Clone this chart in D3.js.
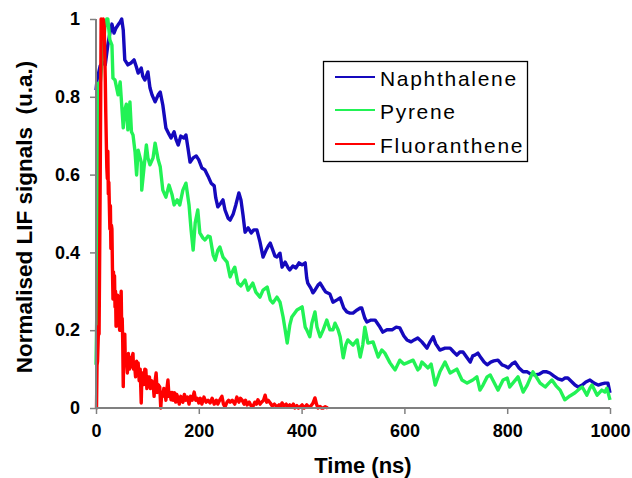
<!DOCTYPE html>
<html>
<head>
<meta charset="utf-8">
<script src="https://cdn.jsdelivr.net/npm/d3@7"></script>
<style>
  html, body { margin: 0; padding: 0; background: #ffffff; }
  svg { display: block; }
</style>
</head>
<body>
<svg id="chart" width="632" height="478"></svg>
<script>
// ---- Data (time in ns, normalised LIF signal in u.a.) ----
const seriesNames = ["Naphthalene", "Pyrene", "Fluoranthene"];
const xTicks = [0, 200, 400, 600, 800, 1000];
const yTicks = [0, 0.2, 0.4, 0.6, 0.8, 1];

const naphthalene = [
  [0,0.817],[2,0.843],[8,0.879],[14,0.889],[18,0.882],[23,0.933],[27,0.964],[31,0.987],[35,0.964],[39,0.977],
  [43,0.985],[47,0.992],[50,1.0],[53,0.972],[56,0.895],[62,0.882],[68,0.887],[74,0.895],[78,0.879],[82,0.861],
  [88,0.874],[91,0.853],[95,0.843],[101,0.864],[105,0.823],[109,0.805],[115,0.787],[121,0.805],[125,0.812],[130,0.779],
  [136,0.720],[142,0.704],[146,0.694],[152,0.710],[156,0.689],[160,0.676],[165,0.699],[171,0.694],[175,0.702],[179,0.668],
  [183,0.632],[189,0.643],[195,0.648],[200,0.638],[206,0.617],[212,0.612],[218,0.596],[224,0.578],[230,0.571],[233,0.540],
  [237,0.517],[243,0.527],[247,0.535],[251,0.509],[257,0.488],[261,0.483],[267,0.499],[272,0.522],[278,0.553],[282,0.535],
  [286,0.496],[290,0.452],[296,0.463],[302,0.450],[307,0.458],[313,0.458],[319,0.427],[325,0.388],[331,0.406],[335,0.416],
  [339,0.424],[344,0.406],[348,0.391],[352,0.388],[358,0.398],[362,0.362],[368,0.375],[374,0.360],[377,0.355],[383,0.365],
  [389,0.360],[395,0.373],[401,0.368],[407,0.373],[410,0.334],[412,0.321],[418,0.308],[422,0.296],[426,0.303],[432,0.316],
  [436,0.321],[442,0.308],[447,0.298],[455,0.293],[461,0.272],[469,0.278],[475,0.283],[482,0.257],[488,0.247],[494,0.244],
  [500,0.244],[508,0.252],[514,0.257],[517,0.257],[523,0.231],[527,0.221],[535,0.226],[543,0.226],[551,0.211],[558,0.195],
  [566,0.201],[576,0.201],[584,0.208],[591,0.206],[599,0.185],[605,0.175],[613,0.170],[619,0.175],[626,0.180],[634,0.170],
  [644,0.154],[650,0.170],[656,0.183],[661,0.165],[669,0.149],[679,0.154],[689,0.154],[696,0.144],[702,0.136],[708,0.144],
  [714,0.144],[722,0.129],[728,0.118],[733,0.134],[737,0.136],[743,0.141],[749,0.129],[755,0.118],[761,0.111],[768,0.118],
  [774,0.121],[782,0.123],[790,0.111],[796,0.108],[802,0.103],[809,0.113],[815,0.118],[823,0.103],[831,0.093],[839,0.093],
  [846,0.087],[854,0.085],[862,0.087],[870,0.093],[877,0.093],[883,0.090],[891,0.082],[899,0.075],[907,0.072],[912,0.077],
  [918,0.077],[926,0.067],[932,0.059],[938,0.054],[946,0.059],[953,0.067],[961,0.072],[969,0.064],[977,0.059],[984,0.062],
  [990,0.064],[996,0.064],[1000,0.039]
];

const pyrene = [
  [0,0.111],[2,0.278],[4,0.835],[8,0.830],[14,0.933],[18,0.985],[21,1.0],[23,1.0],[27,0.946],[31,0.933],
  [33,0.848],[37,0.843],[43,0.805],[47,0.838],[50,0.779],[53,0.720],[56,0.766],[59,0.781],[62,0.715],[66,0.787],
  [69,0.710],[72,0.702],[76,0.658],[79,0.599],[82,0.663],[88,0.632],[89,0.560],[93,0.612],[98,0.676],[101,0.643],
  [105,0.625],[111,0.643],[115,0.681],[121,0.638],[125,0.620],[130,0.560],[136,0.542],[142,0.573],[148,0.548],[152,0.522],
  [158,0.535],[163,0.522],[169,0.560],[175,0.578],[181,0.522],[185,0.458],[189,0.406],[193,0.476],[198,0.509],[202,0.450],
  [208,0.437],[212,0.432],[218,0.442],[222,0.440],[228,0.393],[232,0.380],[237,0.406],[241,0.414],[247,0.388],[255,0.375],
  [261,0.337],[267,0.355],[270,0.362],[276,0.321],[282,0.314],[290,0.329],[296,0.303],[305,0.321],[311,0.298],[319,0.285],
  [325,0.303],[333,0.311],[339,0.278],[344,0.270],[352,0.285],[358,0.272],[364,0.234],[368,0.201],[372,0.167],[377,0.213],
  [381,0.234],[391,0.252],[401,0.260],[407,0.208],[410,0.201],[416,0.183],[420,0.218],[426,0.247],[430,0.208],[436,0.183],
  [442,0.201],[449,0.226],[455,0.201],[461,0.201],[465,0.218],[471,0.201],[475,0.183],[481,0.129],[486,0.162],[490,0.175],
  [500,0.162],[508,0.175],[514,0.131],[519,0.162],[523,0.208],[529,0.167],[539,0.170],[549,0.131],[556,0.149],[562,0.141],
  [572,0.116],[578,0.105],[582,0.098],[591,0.123],[599,0.113],[605,0.116],[617,0.123],[626,0.098],[630,0.103],[634,0.118],
  [646,0.103],[652,0.113],[660,0.059],[669,0.093],[679,0.118],[689,0.090],[702,0.100],[712,0.072],[722,0.064],[733,0.072],
  [741,0.080],[747,0.046],[753,0.059],[761,0.080],[767,0.085],[774,0.067],[782,0.046],[792,0.072],[800,0.077],[805,0.054],
  [813,0.067],[821,0.080],[831,0.041],[839,0.059],[850,0.093],[858,0.077],[864,0.064],[874,0.054],[881,0.064],[887,0.072],
  [895,0.057],[903,0.046],[912,0.021],[922,0.031],[932,0.039],[942,0.051],[946,0.054],[955,0.033],[961,0.051],[965,0.059],
  [975,0.033],[984,0.046],[990,0.041],[994,0.051],[1000,0.021]
];

const fluoranthene = [
  [0,0.0],[1,0.0],[2,0.11],[3,0.12],[5,0.21],[6,0.19],[8,0.55],[10,1.0],[12,0.95],[14,1.0],
  [16,0.98],[18,0.85],[19,0.76],[21,0.62],[22,0.59],[23,0.66],[24,0.55],[25,0.58],[27,0.46],[28,0.52],
  [29,0.41],[30,0.47],[31,0.46],[32,0.36],[33,0.28],[34,0.35],[35,0.30],[36,0.34],[37,0.26],[38,0.30],
  [39,0.21],[40,0.27],[41,0.22],[42,0.29],[44,0.21],[45,0.26],[46,0.20],[47,0.24],[49,0.30],[50,0.20],
  [51,0.23],[52,0.17],[53,0.055],[54,0.14],[56,0.19],[57,0.12],[59,0.13],[61,0.09],[63,0.14],[65,0.10],
  [66,0.13],[68,0.105],[70,0.13],[72,0.14],[73,0.10],[75,0.11],[77,0.08],[79,0.12],[80,0.09],[82,0.116],
  [84,0.07],[86,0.10],[88,0.013],[89,0.07],[91,0.09],[93,0.06],[95,0.10],[97,0.098],[99,0.05],[101,0.08],
  [104,0.08],[106,0.05],[108,0.07],[111,0.064],[113,0.03],[115,0.07],[117,0.09],[119,0.04],[121,0.06],[124,0.054],
  [126,0.0],[128,0.04],[130,0.03],[132,0.05],[134,0.046],[136,0.02],[138,0.05],[140,0.072],[142,0.03],[144,0.04],
  [146,0.021],[148,0.04],[150,0.02],[153,0.039],[155,0.015],[157,0.035],[159,0.028],[162,0.01],[165,0.03],[167,0.02],
  [169,0.015],[172,0.035],[175,0.02],[178,0.028],[181,0.01],[184,0.03],[187,0.02],[191,0.041],[194,0.02],[197,0.025],
  [200,0.013],[203,0.025],[206,0.01],[210,0.028],[214,0.015],[218,0.02],[222,0.013],[226,0.025],[230,0.01],[234,0.02],
  [237,0.01],[241,0.021],[245,0.03],[248,0.01],[251,0.003],[255,0.015],[258,0.02],[261,0.015],[265,0.02],[270,0.01],
  [274,0.028],[278,0.015],[281,0.025],[284,0.021],[288,0.01],[291,0.02],[294,0.008],[298,0.015],[302,0.005],[305,0.003],
  [309,0.015],[312,0.01],[315,0.021],[319,0.01],[322,0.015],[326,0.02],[329,0.033],[332,0.015],[335,0.02],[339,0.013],
  [343,0.005],[347,0.01],[352,0.003],[356,0.008],[359,0.002],[362,0.013],[366,0.005],[370,0.01],[374,0.002],[377,0.008],
  [381,0.003],[384,0.01],[387,0.0],[391,0.006],[394,0.0],[397,0.003],[401,0.008],[405,0.0],[410,0.008],[414,0.002],
  [418,0.005],[422,0.012],[426,0.026],[429,0.01],[432,0.0],[436,0.004],[439,0.0],[442,0.0],[446,0.003],[451,0.0]
];

const seriesData = [naphthalene, pyrene, fluoranthene];
const seriesColors = ["#1509bd", "#22f255", "#ff0000"];

// ---- Layout ----
const svg = d3.select("#chart");
const plot = { left: 96, right: 610, top: 19, bottom: 408 };

const x = d3.scaleLinear().domain([0, 1000]).range([plot.left, plot.right]);
const y = d3.scaleLinear().domain([0, 1]).range([plot.bottom, plot.top]);

const fontBold = "'Liberation Sans', Arial, sans-serif";

// Lines
const line = d3.line().x(d => x(d[0])).y(d => y(d[1]));
seriesData.forEach((data, i) => {
  svg.append("path")
    .datum(data)
    .attr("fill", "none")
    .attr("stroke", seriesColors[i])
    .attr("stroke-width", 3.4)
    .attr("stroke-linejoin", "round")
    .attr("d", line);
});

// Axes
const axisColor = "#808080";
const yAxis = svg.append("g")
  .attr("transform", `translate(${plot.left},0)`)
  .call(d3.axisLeft(y).tickValues(yTicks).tickFormat(d3.format("~g")).tickSize(6).tickPadding(10));
const xAxis = svg.append("g")
  .attr("transform", `translate(0,${plot.bottom})`)
  .call(d3.axisBottom(x).tickValues(xTicks).tickFormat(d3.format("d")).tickSize(6).tickPadding(10));

[yAxis, xAxis].forEach(g => {
  g.select(".domain").attr("stroke", axisColor).attr("stroke-width", 2);
  g.selectAll(".tick line").attr("stroke", axisColor).attr("stroke-width", 1.5);
  g.selectAll(".tick text")
    .attr("fill", "#000")
    .style("font-family", fontBold)
    .style("font-weight", "bold")
    .style("font-size", "18px");
});
yAxis.select(".domain").attr("d", `M0,${plot.top}V${plot.bottom}`);
xAxis.select(".domain").attr("d", `M${plot.left},0H${plot.right}`);

// Axis titles
svg.append("text")
  .attr("x", 363).attr("y", 473)
  .attr("text-anchor", "middle")
  .style("font-family", fontBold).style("font-weight", "bold").style("font-size", "22px")
  .text("Time (ns)");

svg.append("text")
  .attr("transform", "translate(32,217) rotate(-90)")
  .attr("text-anchor", "middle")
  .attr("xml:space", "preserve")
  .style("white-space", "pre")
  .style("font-family", fontBold).style("font-weight", "bold").style("font-size", "22.5px")
  .text("Normalised LIF signals  (u.a.)");

// Legend
const legend = svg.append("g");
legend.append("rect")
  .attr("x", 323.5).attr("y", 61.5).attr("width", 204).attr("height", 100)
  .attr("fill", "#fff").attr("stroke", "#000").attr("stroke-width", 1.3);
const legendY = [77, 110, 144];
seriesNames.forEach((name, i) => {
  legend.append("line")
    .attr("x1", 335).attr("x2", 375)
    .attr("y1", legendY[i]).attr("y2", legendY[i])
    .attr("stroke", seriesColors[i]).attr("stroke-width", 2.2);
  legend.append("text")
    .attr("x", 380).attr("y", legendY[i] + 8.5)
    .style("font-family", "'Liberation Sans', Arial, sans-serif")
    .style("font-size", "21px")
    .style("letter-spacing", "1.7px")
    .attr("fill", "#000")
    .text(name);
});
</script>
</body>
</html>
